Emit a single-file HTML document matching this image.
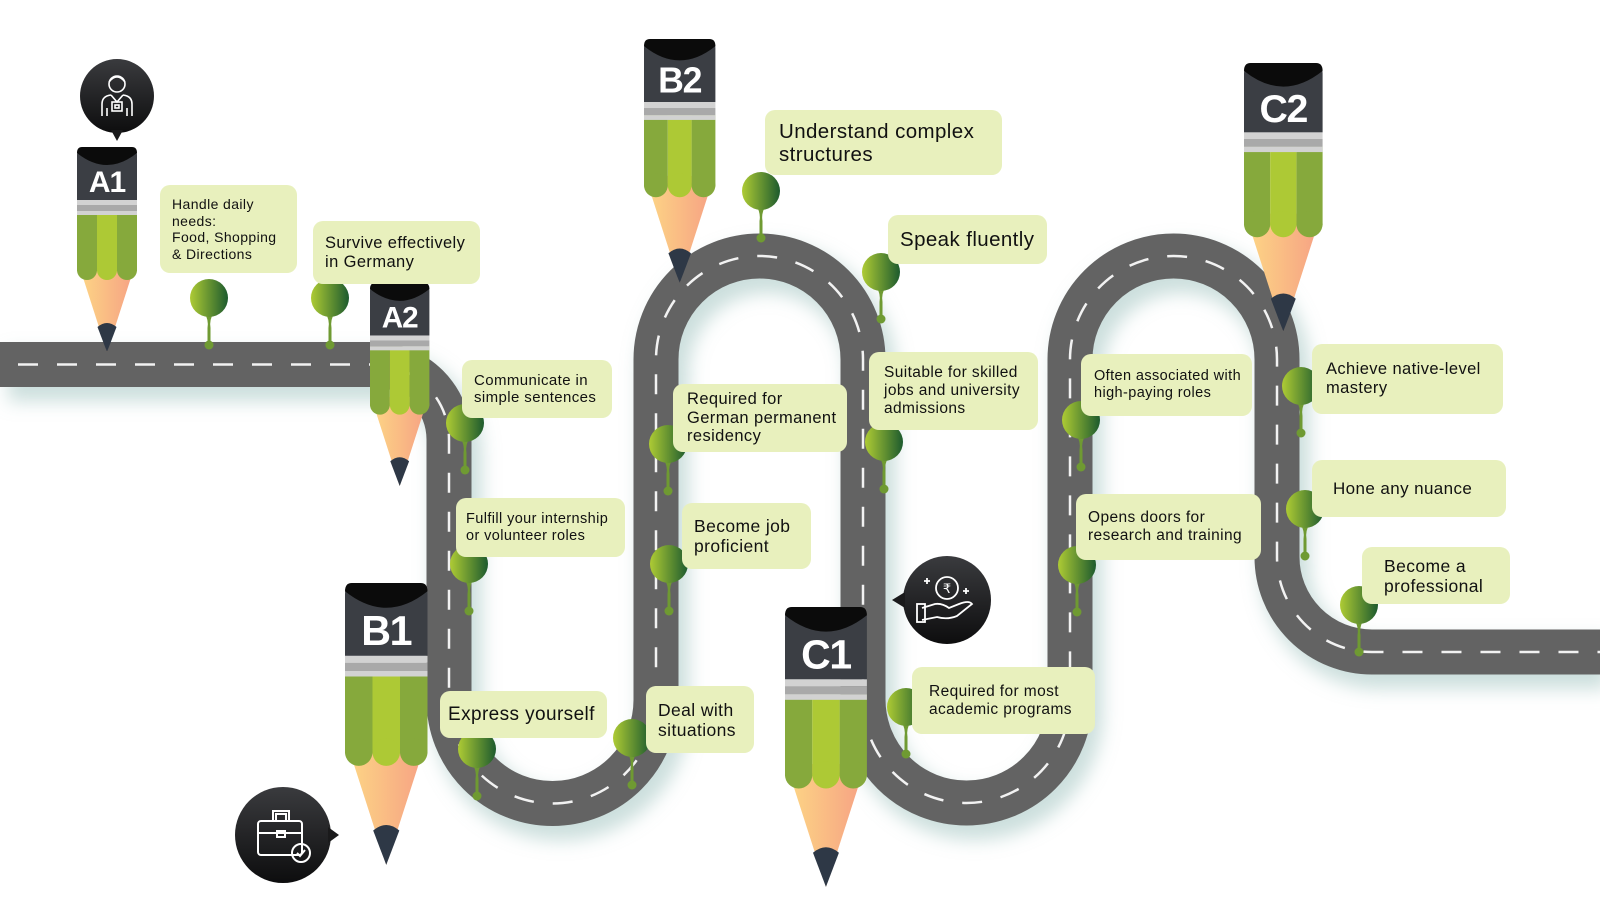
<!DOCTYPE html>
<html><head><meta charset="utf-8"><style>
html,body{margin:0;padding:0;background:#fff;}
#w{position:relative;width:1600px;height:920px;overflow:hidden;font-family:"Liberation Sans",sans-serif;}
svg{position:absolute;left:0;top:0;}
.b{position:absolute;background:#e8f0bd;border-radius:10px;color:#111;box-sizing:border-box;padding-left:12px;display:flex;flex-direction:column;justify-content:center;white-space:nowrap;letter-spacing:0.4px;}
</style></head><body><div id="w">
<svg width="1600" height="920" viewBox="0 0 1600 920">
<defs>
<linearGradient id="pg" x1="0" x2="1"><stop offset="0" stop-color="#aecb34"/><stop offset="1" stop-color="#1d5b2e"/></linearGradient>
<linearGradient id="cg" x1="0" x2="1"><stop offset="0" stop-color="#fdd785"/><stop offset="1" stop-color="#f6a084"/></linearGradient>
<linearGradient id="ic" x1="0" y1="0" x2="0" y2="1"><stop offset="0" stop-color="#3a3b3e"/><stop offset="1" stop-color="#0d0d0e"/></linearGradient>
<filter id="bl" x="-10%" y="-10%" width="120%" height="120%"><feGaussianBlur stdDeviation="9"/></filter>
<g id="pencil">
<polygon points="1,115 59,115 30,205" fill="url(#cg)"/>
<path d="M20.5,180 Q30,172 39.5,180 L30,205 Z" fill="#2e3846"/>
<rect x="0" y="64" width="20" height="60" fill="#86a93c"/><circle cx="10" cy="123" r="10" fill="#86a93c"/>
<rect x="40" y="64" width="20" height="60" fill="#86a93c"/><circle cx="50" cy="123" r="10" fill="#86a93c"/>
<rect x="20" y="64" width="20" height="60" fill="#adc935"/><circle cx="30" cy="123" r="10" fill="#adc935"/>
<path d="M0,8 Q0,0 8,0 H52 Q60,0 60,8 V53 H0 Z" fill="#3b3e44"/>
<path d="M5,0 H55 Q60,0 60,6 Q30,30 0,6 Q0,0 5,0Z" fill="#0b0b0b"/>
<rect x="0" y="53" width="60" height="5" fill="#d2d2d2"/><rect x="0" y="58" width="60" height="6" fill="#a9a9a9"/><rect x="0" y="64" width="60" height="4" fill="#d2d2d2"/>
</g>
<g id="pin">
<path d="M-5,14 Q0,22 -1.5,30 L-1.5,46 L1.5,46 L1.5,30 Q0,22 5,14 Z" fill="#6f9a32"/>
<circle cx="0" cy="0" r="19" fill="url(#pg)"/>
<circle cx="0" cy="47" r="4.5" fill="#6f9a32"/>
</g>
</defs>
<path d="M0,364.5 H374 A75,75 0 0 1 449,439.5 V700 A103.5,103.5 0 0 0 656,700 V359.5 A103.5,103.5 0 0 1 863,359.5 V699.5 A103.5,103.5 0 0 0 1070,699.5 V359.5 A103.5,103.5 0 0 1 1277,359.5 V557 A95,95 0 0 0 1372,652 H1600" transform="translate(8,12)" fill="none" stroke="#8fb8b4" stroke-opacity=".45" stroke-width="50" filter="url(#bl)"/>
<path d="M0,364.5 H374 A75,75 0 0 1 449,439.5 V700 A103.5,103.5 0 0 0 656,700 V359.5 A103.5,103.5 0 0 1 863,359.5 V699.5 A103.5,103.5 0 0 0 1070,699.5 V359.5 A103.5,103.5 0 0 1 1277,359.5 V557 A95,95 0 0 0 1372,652 H1600" fill="none" stroke="#636363" stroke-width="45"/>
<path d="M18,364.5 H374 A75,75 0 0 1 449,439.5 V700 A103.5,103.5 0 0 0 656,700 V359.5 A103.5,103.5 0 0 1 863,359.5 V699.5 A103.5,103.5 0 0 0 1070,699.5 V359.5 A103.5,103.5 0 0 1 1277,359.5 V557 A95,95 0 0 0 1372,652 H1600" fill="none" stroke="#f2f2f2" stroke-width="2.5" stroke-dasharray="20,19"/>

<g transform="translate(77,147)"><use href="#pencil"/><text x="30" y="45" text-anchor="middle" font-family="Liberation Sans" font-weight="bold" font-size="30" fill="#fff" letter-spacing="-1">A1</text></g>
<g transform="translate(370,283) scale(0.99)"><use href="#pencil"/><text x="30" y="45" text-anchor="middle" font-family="Liberation Sans" font-weight="bold" font-size="30" fill="#fff" letter-spacing="-1">A2</text></g>
<g transform="translate(644,39) scale(1.19)"><use href="#pencil"/><text x="30" y="45" text-anchor="middle" font-family="Liberation Sans" font-weight="bold" font-size="30" fill="#fff" letter-spacing="-1">B2</text></g>
<g transform="translate(345,583) scale(1.375)"><use href="#pencil"/><text x="30" y="45" text-anchor="middle" font-family="Liberation Sans" font-weight="bold" font-size="30" fill="#fff" letter-spacing="-1">B1</text></g>
<g transform="translate(785,607) scale(1.365)"><use href="#pencil"/><text x="30" y="45" text-anchor="middle" font-family="Liberation Sans" font-weight="bold" font-size="30" fill="#fff" letter-spacing="-1">C1</text></g>
<g transform="translate(1244,63) scale(1.31)"><use href="#pencil"/><text x="30" y="45" text-anchor="middle" font-family="Liberation Sans" font-weight="bold" font-size="30" fill="#fff" letter-spacing="-1">C2</text></g>

<g transform="translate(117,96)">
<circle r="37" fill="url(#ic)"/><polygon points="-6,34 6,34 0,45" fill="#1a1a1b"/>
<g fill="none" stroke="#fff" stroke-width="1.6">
<circle cx="0" cy="-12" r="8"/><path d="M-8,-14 Q0,-24 8,-14"/>
<path d="M-15,20 V8 Q-15,0 -6,-1 M15,20 V8 Q15,0 6,-1"/>
<path d="M-6,-1 L0,6 L6,-1"/><rect x="-5" y="6" width="10" height="9"/><rect x="-2" y="9" width="4" height="3"/>
<path d="M-10,12 V20 M10,12 V20"/></g></g>
<g transform="translate(283,835)">
<circle r="48" fill="url(#ic)"/><polygon points="45,-8 45,8 56,0" fill="#1a1a1b"/>
<g fill="none" stroke="#fff" stroke-width="2">
<rect x="-25" y="-14" width="44" height="34" rx="3"/><path d="M-10,-14 V-24 H6 V-14 M-7,-14 V-21 H3 V-14"/>
<path d="M-25,-2 H19"/><rect x="-6" y="-4" width="8" height="6"/>
<circle cx="18" cy="18" r="9"/><path d="M14,18 L17,21 L22,15"/></g></g>
<g transform="translate(947,600)">
<circle r="44" fill="url(#ic)"/><polygon points="-42,-8 -42,8 -55,0" fill="#1a1a1b"/>
<g fill="none" stroke="#fff" stroke-width="1.8">
<circle cx="0" cy="-12" r="11"/><path d="M-25,8 L-12,4 Q-5,3 2,8 L12,4 Q22,0 25,4 L10,16 Q0,20 -10,17 L-25,20"/><rect x="-30" y="4" width="8" height="18"/>
<path d="M-20,-22 v6 M-23,-19 h6 M19,-12 v6 M16,-9 h6"/></g>
<text x="0" y="-7" text-anchor="middle" font-family="DejaVu Sans" font-size="13" fill="#fff">₹</text></g>

<use href="#pin" x="209" y="298"/><use href="#pin" x="330" y="298"/>
<use href="#pin" x="465" y="423"/><use href="#pin" x="469" y="564"/>
<use href="#pin" x="477" y="749"/><use href="#pin" x="632" y="738"/>
<use href="#pin" x="668" y="444"/><use href="#pin" x="669" y="564"/>
<use href="#pin" x="761" y="191"/><use href="#pin" x="881" y="272"/>
<use href="#pin" x="884" y="442"/><use href="#pin" x="906" y="707"/>
<use href="#pin" x="1081" y="420"/><use href="#pin" x="1077" y="565"/>
<use href="#pin" x="1301" y="386"/><use href="#pin" x="1305" y="509"/>
<use href="#pin" x="1359" y="605"/>
</svg>

<div class="b" style="left:160px;top:185px;width:137px;height:88px;font-size:14px;line-height:16.5px;">Handle daily<br>needs:<br>Food, Shopping<br>&amp; Directions</div>
<div class="b" style="left:313px;top:221px;width:167px;height:63px;font-size:16.5px;line-height:19px;">Survive effectively<br>in Germany</div>
<div class="b" style="left:462px;top:360px;width:150px;height:58px;font-size:15px;line-height:17px;">Communicate in<br>simple sentences</div>
<div class="b" style="left:456px;top:498px;width:169px;height:59px;font-size:14.5px;line-height:17px;padding-left:10px;">Fulfill your internship<br>or volunteer roles</div>
<div class="b" style="left:440px;top:691px;width:167px;height:47px;font-size:19px;padding-left:8px;">Express yourself</div>
<div class="b" style="left:673px;top:384px;width:174px;height:68px;font-size:16.5px;line-height:18.5px;padding-left:14px;">Required for<br>German permanent<br>residency</div>
<div class="b" style="left:682px;top:503px;width:129px;height:66px;font-size:17.5px;line-height:20px;">Become job<br>proficient</div>
<div class="b" style="left:646px;top:686px;width:108px;height:67px;font-size:17.5px;line-height:20px;">Deal with<br>situations</div>
<div class="b" style="left:765px;top:110px;width:237px;height:65px;font-size:20.5px;line-height:23px;padding-left:14px;">Understand complex<br>structures</div>
<div class="b" style="left:888px;top:215px;width:159px;height:49px;font-size:20.5px;">Speak fluently</div>
<div class="b" style="left:869px;top:352px;width:169px;height:78px;font-size:15.5px;line-height:18px;padding-left:15px;">Suitable for skilled<br>jobs and university<br>admissions</div>
<div class="b" style="left:912px;top:667px;width:183px;height:67px;font-size:15.5px;line-height:18px;padding-left:17px;">Required for most<br>academic programs</div>
<div class="b" style="left:1081px;top:354px;width:171px;height:62px;font-size:14.5px;line-height:17px;padding-left:13px;">Often associated with<br>high-paying roles</div>
<div class="b" style="left:1076px;top:494px;width:185px;height:66px;font-size:15.5px;line-height:18px;">Opens doors for<br>research and training</div>
<div class="b" style="left:1312px;top:344px;width:191px;height:70px;font-size:16.5px;line-height:19px;padding-left:14px;">Achieve native-level<br>mastery</div>
<div class="b" style="left:1312px;top:460px;width:194px;height:57px;font-size:17px;padding-left:21px;">Hone any nuance</div>
<div class="b" style="left:1362px;top:547px;width:148px;height:57px;font-size:17.5px;line-height:20px;padding-left:22px;">Become a<br>professional</div>
</div></body></html>
